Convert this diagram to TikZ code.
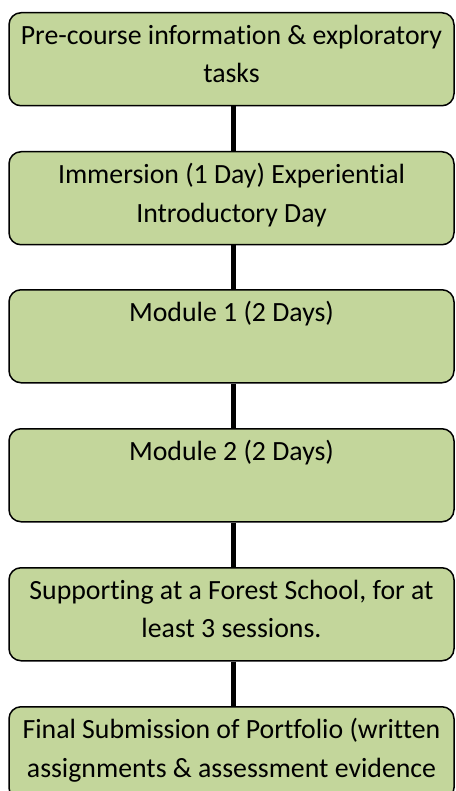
\documentclass[tikz,border=0pt]{standalone}
\usepackage{fontspec}
\setmainfont{Carlito}[Ligatures={NoCommon}]
\definecolor{boxgreen}{HTML}{C3D69B}
\newcommand{\firststrut}{\rule{0pt}{20pt}}
\begin{document}
\begin{tikzpicture}[x=1pt,y=-1pt,
  stagebox/.style={draw=black,line width=1.5pt,fill=boxgreen,rounded corners=12pt,
    minimum width=445pt,minimum height=93pt,inner sep=0pt,anchor=north},
  stagetext/.style={anchor=north,align=center,inner sep=0pt,font=\fontsize{27.8}{38.5}\selectfont},
  link/.style={line width=5pt,draw=black}]
\useasboundingbox (0,0) rectangle (455,791);
\clip (0,0) rectangle (455,791);
\foreach \n/\t in {a/12,b/151,c/289,d/428,e/567,f/706}{
  \node[stagebox] (\n) at (231.5,\t) {};
}
\draw[link] ([xshift=1.5pt]a.south) -- ([xshift=1.5pt]b.north);
\draw[link] ([xshift=1.5pt]b.south) -- ([xshift=1.5pt]c.north);
\draw[link] ([xshift=1.5pt]c.south) -- ([xshift=1.5pt]d.north);
\draw[link] ([xshift=1.5pt]d.south) -- ([xshift=1.5pt]e.north);
\draw[link] ([xshift=1.5pt]e.south) -- ([xshift=1.5pt]f.north);
\node[stagetext] (ta) at ([yshift=-12pt]a.north) {\firststrut Pre-course information \& exploratory\\tasks};
\node[stagetext] (tb) at ([yshift=-12pt]b.north) {\firststrut Immersion (1 Day) Experiential\\Introductory Day};
\node[stagetext] (tc) at ([yshift=-12pt]c.north) {\firststrut Module 1 (2 Days)};
\node[stagetext] (td) at ([yshift=-12pt]d.north) {\firststrut Module 2 (2 Days)};
\node[stagetext] (te) at ([yshift=-12pt]e.north) {\firststrut Supporting at a Forest School, for at\\least 3 sessions.};
\node[stagetext] (tf) at ([yshift=-12pt]f.north) {\firststrut Final Submission of Portfolio (written\\assignments \& assessment evidence};
\end{tikzpicture}
\end{document}
